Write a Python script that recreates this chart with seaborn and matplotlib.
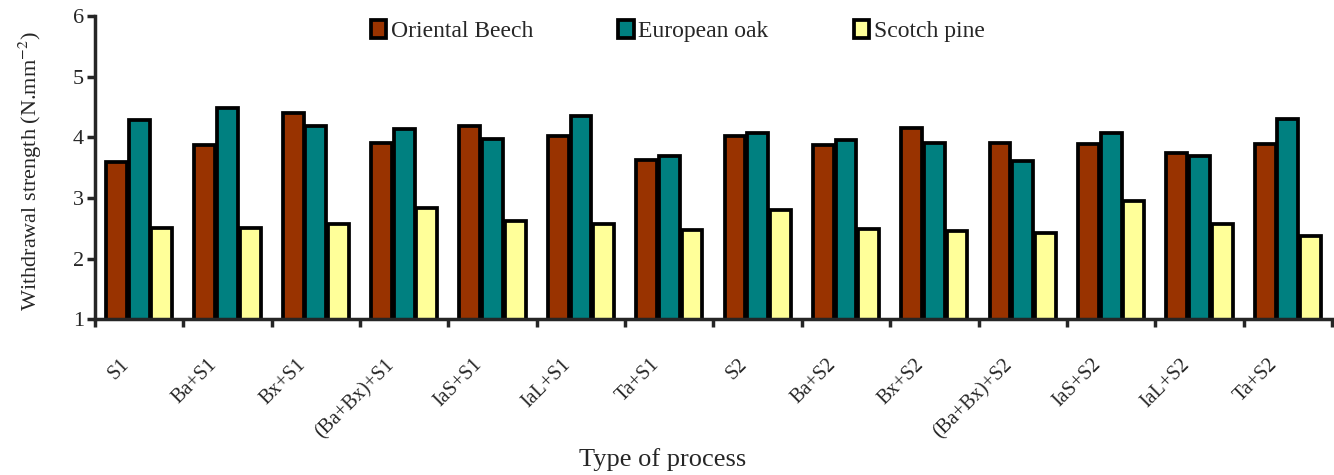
import pandas as pd
import seaborn as sns
import matplotlib.pyplot as plt
import numpy as np
from matplotlib.transforms import ScaledTranslation

processes = ["S1", "Ba+S1", "Bx+S1", "(Ba+Bx)+S1", "IaS+S1", "IaL+S1", "Ta+S1",
             "S2", "Ba+S2", "Bx+S2", "(Ba+Bx)+S2", "IaS+S2", "IaL+S2", "Ta+S2"]
oriental_beech = [3.60, 3.88, 4.40, 3.90, 4.18, 4.03, 3.63, 4.03, 3.87, 4.16, 3.91, 3.89, 3.75, 3.89]
european_oak = [4.28, 4.48, 4.18, 4.14, 3.97, 4.35, 3.70, 4.07, 3.95, 3.91, 3.61, 4.07, 3.70, 4.30]
scotch_pine = [2.50, 2.50, 2.57, 2.84, 2.62, 2.57, 2.47, 2.80, 2.48, 2.46, 2.42, 2.95, 2.57, 2.37]
species = ["Oriental Beech", "European oak", "Scotch pine"]
colors = ["#993300", "#008080", "#FFFF99"]

df = pd.DataFrame({
    "process": processes * 3,
    "species": np.repeat(species, len(processes)),
    "strength": oriental_beech + european_oak + scotch_pine,
})

sns.set_style("ticks")
plt.rcParams["font.family"] = ["Liberation Serif", "DejaVu Serif"]
plt.rcParams["mathtext.fontset"] = "stix"

fig = plt.figure(figsize=(13.34, 4.75), dpi=100)
ax = fig.add_axes([0.0712, 0.328, 0.9273, 0.638])

sns.barplot(data=df, x="process", y="strength", hue="species", palette=colors,
            saturation=1, width=0.77, gap=0.08, edgecolor="black", linewidth=2.7, ax=ax)

ax.set_ylim(1, 6)
ax.set_xlim(-0.5, len(processes) - 0.5)
ax.set_yticks([1, 2, 3, 4, 5, 6])
ax.tick_params(axis="y", labelsize=16, length=6, width=2.5, direction="out", pad=2)

# labels at group centres, tick marks at group boundaries
ax.set_xticks(range(len(processes)))
ax.set_xticklabels(processes, rotation=45, ha="right", fontsize=14.5)
ax.tick_params(axis="x", which="major", length=0, pad=26)
ax.set_xticks(np.arange(-0.5, len(processes), 1), minor=True)
ax.tick_params(axis="x", which="minor", length=6, width=2.5, direction="out")
for lab in ax.get_xticklabels():
    lab.set_transform(lab.get_transform() + ScaledTranslation(-4.5 / 72, 0, fig.dpi_scale_trans))

for s in ["top", "right"]:
    ax.spines[s].set_visible(False)
for s in ["left", "bottom"]:
    ax.spines[s].set_linewidth(2.5)

ax.set_xlabel("Type of process", fontsize=19)
ax.xaxis.set_label_coords(0.459, -0.425)
ax.set_ylabel("Withdrawal strength (N.mm$^{-2}$)", fontsize=16)
ax.yaxis.set_label_coords(-0.041, 0.49)

ax.legend(loc="center", bbox_to_anchor=(0.471, 0.95), ncol=3, frameon=False,
          fontsize=17, handlelength=0.65, handleheight=0.8, handletextpad=0.2,
          columnspacing=3.6)

fig.savefig("out.png", dpi=100)
